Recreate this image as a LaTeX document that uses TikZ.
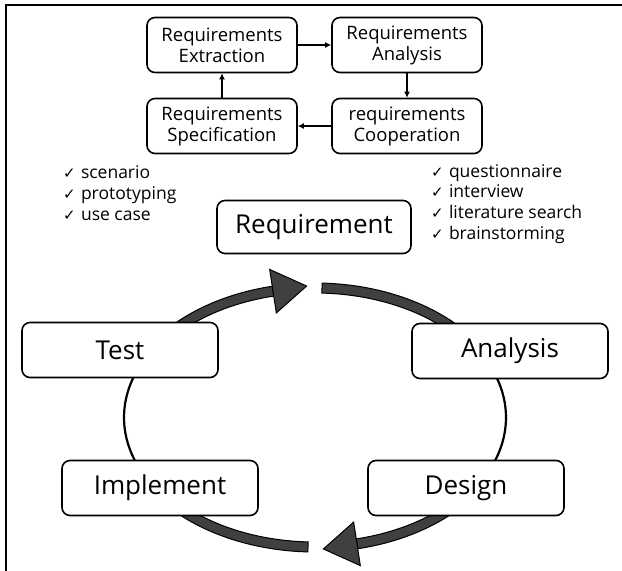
\documentclass[tikz,border=0pt]{standalone}
\usepackage{fontspec}
\setmainfont{Open Sans}
\newfontfamily\symfont{DejaVu Sans}
\usetikzlibrary{arrows.meta}
\definecolor{bandgray}{HTML}{404040}
\newcommand{\chk}{{\symfont\fontsize{15}{15}\selectfont ✓}\hspace{0.3em}}

\begin{document}
\begin{tikzpicture}[x=1pt,y=-1pt]
  \tikzset{
    stage/.style={draw, line width=1.6pt, rounded corners=8pt, fill=white, minimum width=196pt, minimum height=55pt, font=\fontsize{26}{30}\selectfont},
    task/.style={draw, line width=1.6pt, rounded corners=8pt, fill=white, minimum width=150pt, minimum height=55pt, align=center, font=\fontsize{18.5}{21}\selectfont},
    flow/.style={line width=1.5pt, -{Latex[length=6pt,width=6pt]}},
    band/.style={draw=black, line width=1pt, fill=bandgray},
    loop/.style={line width=2.2pt},
    checklist/.style={align=left, inner sep=0pt, font=\fontsize{17.5}{20.7}\selectfont}
  }
  \useasboundingbox (0,0) rectangle (622,571);

  % Frame
  \draw[line width=2.5pt] (6,571) -- (6,5) -- (622,5);

  % Requirement sub-process
  \node[task] (extr) at (222,45) {Requirements\\Extraction};
  \node[task] (anal) at (407,45) {Requirements\\Analysis};
  \node[task] (coop) at (407,126) {requirements\\Cooperation};
  \node[task] (spec) at (222,126) {Requirements\\Specification};
  \draw[flow] (extr) -- (anal);
  \draw[flow] (anal) -- (coop);
  \draw[flow] (coop) -- (spec);
  \draw[flow] (spec) -- (extr);

  % Techniques
  \node[checklist, anchor=west] (spectech) at (63,193) {\chk scenario\\\chk prototyping\\\chk use case};
  \node[checklist, anchor=west] (elicittech) at (431,204) {\chk questionnaire\\\chk interview\\\chk literature search\\\chk brainstorming};

  % Life cycle arrows
  \foreach \a/\b in {220/257.3, 272.1/318, 40/77.3, 92.1/140}
    \draw[band] plot[domain=\a:\b, samples=40] ({315+196*cos(\x)},{417.5+134.5*sin(\x)})
      -- plot[domain=\b:\a, samples=40] ({315+186*cos(\x)},{417.5+124.5*sin(\x)}) -- cycle;
  \foreach \t/\r in {257.3/8.7, 77.3/188.7}
    \draw[band, shift={({315+191*cos(\t)},{417.5+129.5*sin(\t)})}, rotate=\r]
      (0,-22) -- (34,0) -- (0,22) -- cycle;
  \draw[loop] plot[domain=150:210, samples=30] ({315+191*cos(\x)},{417.5+129.5*sin(\x)});
  \draw[loop] plot[domain=-30:30, samples=30] ({315+191*cos(\x)},{417.5+129.5*sin(\x)});

  % Stages
  \node[stage, minimum width=194pt, minimum height=53pt] (req) at (314,227) {Requirement};
  \node[stage] (analysis) at (510,351) {Analysis};
  \node[stage] (design) at (466,488) {Design};
  \node[stage] (implement) at (160,488) {Implement};
  \node[stage] (test) at (120,350) {Test};
\end{tikzpicture}
\end{document}
